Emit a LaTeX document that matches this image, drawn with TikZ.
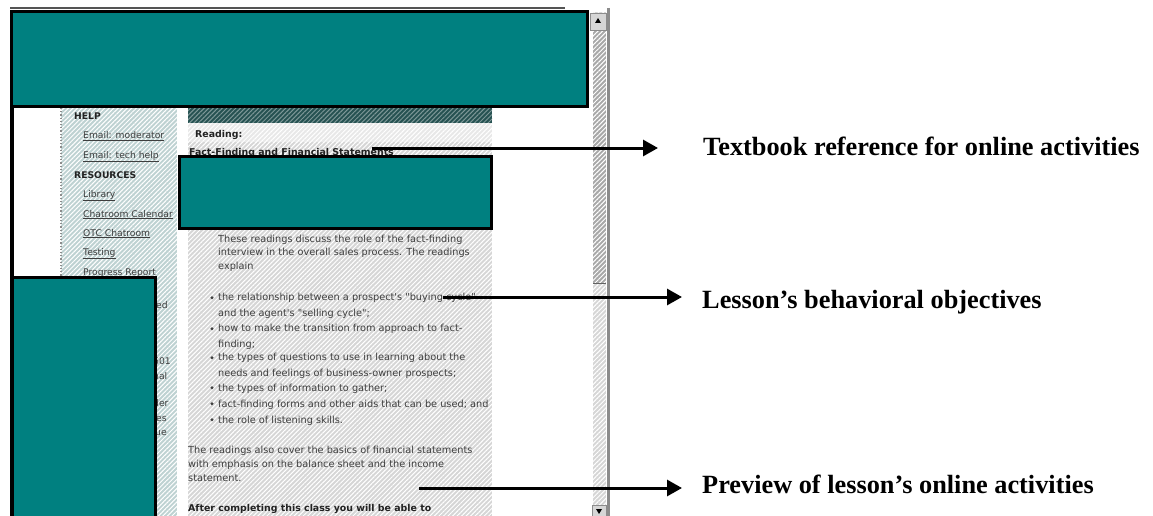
\documentclass[tikz,border=0pt]{standalone}
\usepackage{fontspec}
\setmainfont{Liberation Serif}
\newfontfamily\webfont{DejaVu Sans}
\usetikzlibrary{arrows.meta,patterns.meta,positioning}

\definecolor{redact}{RGB}{0,128,128}
\definecolor{navfill}{RGB}{190,210,210}
\definecolor{pagefill}{RGB}{214,214,214}
\definecolor{bandfill}{RGB}{232,232,232}
\definecolor{headfill}{RGB}{38,82,82}
\definecolor{webtext}{RGB}{62,62,62}
\definecolor{webdark}{RGB}{34,34,34}
\definecolor{trackfill}{RGB}{214,214,214}
\definecolor{thumbfill}{RGB}{168,168,168}
\definecolor{framegray}{RGB}{140,140,140}

\tikzset{
  redbox/.style={fill=redact, draw=black, line width=3pt},
  hatch/.style={pattern={Lines[angle=45,distance=3.2pt,line width=1pt]}, pattern color=white},
  navhead/.style={font=\webfont\fontsize{9.2}{11}\selectfont\bfseries, text=webdark, inner sep=0pt, anchor=base west},
  navlink/.style={font=\webfont\fontsize{9.2}{11}\selectfont, text=webtext, inner sep=0pt, anchor=base west},
  bodytext/.style={font=\webfont\fontsize{9.75}{15.25}\selectfont, text=webtext, inner sep=0pt, anchor=base west, align=left},
  bodyhead/.style={font=\webfont\fontsize{9.4}{11}\selectfont\bfseries, text=webdark, inner sep=0pt, anchor=base west},
  callout/.style={font=\fontsize{26.3}{30}\selectfont\bfseries, inner sep=0pt, anchor=base west},
  pointer/.style={line width=3pt, -{Triangle[length=15pt,width=16pt]}},
}

\begin{document}
\begin{tikzpicture}[x=1pt,y=-1pt]
\useasboundingbox (0,0) rectangle (1153,516);

% screenshot background
\fill[white] (0,0) rectangle (1153,516);
\draw[framegray!60!black, line width=1.5pt] (10,8) -- (565,8);
\fill[navfill, postaction={hatch}] (61,108) rectangle (177,516);
\draw[framegray, dotted, line width=1.2pt] (61,108) -- (61,516);
\fill[pagefill, postaction={hatch}] (188,108) rectangle (492,516);
\fill[bandfill, postaction={hatch}] (188,123) rectangle (492,142);
\fill[headfill, postaction={pattern={Lines[angle=45,distance=3.2pt,line width=1pt]}, pattern color=headfill!60!white}] (188,108) rectangle (492,123);

% scrollbar
\fill[trackfill, postaction={hatch}] (593,12) rectangle (606,516);
\fill[thumbfill, postaction={hatch}] (593,30) rectangle (606,283);
\draw[framegray!70!black] (593,283) -- (606,283);
\draw[framegray, line width=3pt] (608.5,8) -- (608.5,516);
\filldraw[fill=trackfill, draw=framegray] (590,13) rectangle (606,30);
\fill[black] (598,18) -- (601,23) -- (595,23) -- cycle;
\filldraw[fill=trackfill, draw=framegray] (592,505) rectangle (606,516);
\fill[black] (596,509) -- (602,509) -- (599,514) -- cycle;

% navigation column
\node[navhead] (help) at (74,120) {HELP};
\node[navlink] (mailmod) at (83,139) {\underline{Email: moderator}};
\node[navlink] (mailtech) at (83,158) {\underline{Email: tech help}};
\node[navhead] (resources) at (74,178) {RESOURCES};
\node[navlink] (library) at (83,197) {\underline{Library}};
\node[navlink] (calendar) at (83,217) {\underline{Chatroom Calendar}};
\node[navlink] (chatroom) at (83,236) {\underline{OTC Chatroom}};
\node[navlink] (testing) at (83,255) {\underline{Testing}};
\node[navlink] (progress) at (83,275) {\underline{Progress Report}};
\node[navlink] (fraga) at (156,308) {ed};
\node[navlink] (fragb) at (153,364) {601};
\node[navlink] (fragc) at (153,379) {nal};
\node[navlink] (fragd) at (153,406) {der};
\node[navlink] (frage) at (156,421) {es};
\node[navlink] (fragf) at (155,435) {ue};

% page content (base = last line of each block)
\node[bodyhead] (reading) at (195,137) {Reading:};
\node[bodyhead] (chapter) at (189,155) {\underline{Fact-Finding and Financial Statements}};
\node[bodytext, font=\webfont\fontsize{9.75}{13.5}\selectfont] (intro) at (218,269)
  {These readings discuss the role of the fact-finding\\interview in the overall sales process. The readings\\explain};
\node[bodytext] (itema) at (218,316) {the relationship between a prospect's "buying cycle"\\and the agent's "selling cycle";};
\node[bodytext] (itemb) at (218,347) {how to make the transition from approach to fact-\\finding;};
\node[bodytext] (itemc) at (218,376) {the types of questions to use in learning about the\\needs and feelings of business-owner prospects;};
\node[bodytext] (itemd) at (218,391) {the types of information to gather;};
\node[bodytext] (iteme) at (218,407) {fact-finding forms and other aids that can be used; and};
\node[bodytext] (itemf) at (218,423) {the role of listening skills.};
\foreach \y in {301,332,361,391,407,423}
  \fill[webtext] (212,\y-3.2) circle (1.6);
\node[bodytext, font=\webfont\fontsize{9.75}{14}\selectfont] (finance) at (188,481)
  {The readings also cover the basics of financial statements\\with emphasis on the balance sheet and the income\\statement.};
\node[bodyhead] (outcome) at (188,511) {After completing this class you will be able to};

% redacted areas
\draw[redbox] (11.5,11.5) rectangle (587,107);
\draw[redbox] (179,156) rectangle (491,228.5);
\draw[redbox] (11.5,277) rectangle (155,518);
\draw[line width=4pt] (12,107) -- (12,516);

% callouts
\node[callout] (textbook) at (703,155) {Textbook reference for online activities};
\node[callout] (objectives) at (702,308) {Lesson’s behavioral objectives};
\node[callout] (preview) at (702,493) {Preview of lesson’s online activities};
\coordinate (bookpt) at (372,148);
\coordinate (goalpt) at (443,297);
\coordinate (prevpt) at (419,488);
\draw[pointer, shorten >=45pt] (bookpt) -- (bookpt -| textbook.west);
\draw[pointer, shorten >=20pt] (goalpt) -- (goalpt -| objectives.west);
\draw[pointer, shorten >=20pt] (prevpt) -- (prevpt -| preview.west);
\end{tikzpicture}
\end{document}
